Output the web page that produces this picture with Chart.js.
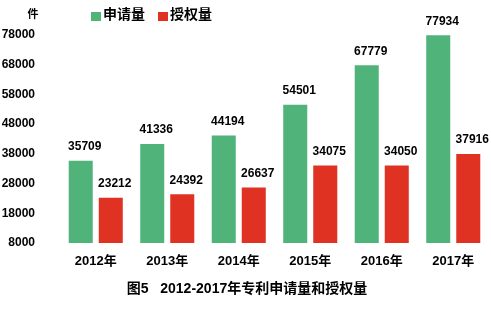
<!DOCTYPE html>
<html>
<head>
<meta charset="utf-8">
<script src="https://cdn.jsdelivr.net/npm/chart.js@4"></script>
<style>
  body { margin: 0; background: #fff; }
  #wrap { width: 491px; height: 319px; }
</style>
</head>
<body>
<div id="wrap"><canvas id="chart"></canvas></div>
<script>
// DATA
const years = ['2012年', '2013年', '2014年', '2015年', '2016年', '2017年'];
const applied = [35709, 41336, 44194, 54501, 67779, 77934];
const granted = [23212, 24392, 26637, 34075, 34050, 37916];
const seriesNames = ['申请量', '授权量'];
const yTicks = [8000, 18000, 28000, 38000, 48000, 58000, 68000, 78000];

const green = '#4fb37a';
const red = '#e03222';
const font = '"Liberation Sans", Arial, "Noto Sans CJK SC", sans-serif';

// labels above bars, legend, unit and caption
const extras = {
  id: 'extras',
  afterDatasetsDraw(chart) {
    const ctx = chart.ctx;
    ctx.save();
    ctx.fillStyle = '#000';
    ctx.font = 'bold 12px ' + font;
    ctx.textAlign = 'center';
    ctx.textBaseline = 'middle';
    chart.data.datasets.forEach((ds, i) => {
      chart.getDatasetMeta(i).data.forEach((bar, j) => {
        ctx.fillText(ds.data[j], bar.x + 4, bar.y - 14);
      });
    });

    // unit
    ctx.font = 'bold 11px ' + font;
    ctx.fillText('件', 33, 15);

    // legend
    ctx.font = 'bold 14px ' + font;
    ctx.textAlign = 'left';
    const items = [[91, green], [158, red]];
    items.forEach((it, i) => {
      ctx.fillStyle = it[1];
      ctx.fillRect(it[0], 12, 10, 9);
      ctx.fillStyle = '#000';
      ctx.fillText(seriesNames[i], it[0] + 12, 15);
    });

    // caption
    ctx.font = 'bold 14px ' + font;
    ctx.textAlign = 'center';
    ctx.fillText('图5   2012-2017年专利申请量和授权量', 247, 289);
    ctx.restore();
  }
};

new Chart(document.getElementById('chart'), {
  type: 'bar',
  data: {
    labels: years,
    datasets: [
      { label: seriesNames[0], data: applied, backgroundColor: green },
      { label: seriesNames[1], data: granted, backgroundColor: red }
    ]
  },
  options: {
    responsive: true,
    maintainAspectRatio: false,
    animation: false,
    layout: { padding: { top: 35, right: 2, left: 0, bottom: 0 } },
    datasets: { bar: { barPercentage: 0.8, categoryPercentage: 0.84 } },
    plugins: { legend: { display: false }, tooltip: { enabled: false } },
    scales: {
      x: {
        grid: { display: false },
        border: { display: false },
        ticks: { color: '#000', padding: 3, font: { family: font, size: 13, weight: 'bold' } },
        afterFit(scale) { scale.height = 76; }
      },
      y: {
        min: 8000,
        max: 78000,
        grid: { display: false },
        border: { display: false },
        afterBuildTicks(scale) { scale.ticks = yTicks.map(v => ({ value: v })); },
        ticks: {
          color: '#000', padding: 17,
          font: { family: font, size: 12, weight: 'bold' },
          callback: v => String(v)
        },
        afterFit(scale) { scale.width = 60; }
      }
    }
  },
  plugins: [extras]
});
</script>
</body>
</html>
